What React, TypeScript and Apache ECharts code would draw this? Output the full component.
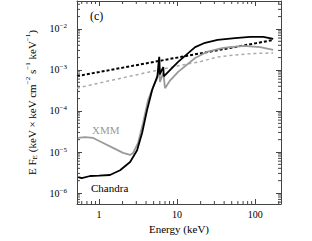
import React, { useEffect, useRef } from "react";
import * as echarts from "echarts";

const X_MIN = 0.522;
const X_MAX = 214;
const Y_MIN = 5.4e-7;
const Y_MAX = 0.048;

const chandraE = [0.54, 0.6, 0.77, 1.0, 1.38, 1.86, 2.5, 3.07, 3.56, 4.12, 4.78, 5.6, 5.9, 6.0, 6.65, 6.75, 10.3, 17, 22.8, 33, 55, 86, 127, 170];
const chandraF = [2.45e-6, 2.3e-6, 2.6e-6, 2.65e-6, 2.75e-6, 3.6e-6, 5.7e-6, 1.1e-5, 2.9e-5, 1.05e-4, 3.2e-4, 7.2e-4, 2.1e-3, 7.8e-4, 1.18e-3, 7.0e-4, 1.57e-3, 3.6e-3, 4.6e-3, 5.4e-3, 6.0e-3, 6.4e-3, 6.4e-3, 5.7e-3];

const xmmE = [0.54, 0.66, 0.84, 1.13, 1.51, 2.03, 2.5, 2.73, 3.16, 3.66, 4.25, 4.92, 5.6, 5.9, 6.02, 6.65, 7.0, 8.1, 10.3, 17, 24, 39, 70, 116, 170];
const xmmF = [2.2e-5, 2.3e-5, 2.2e-5, 1.66e-5, 1.26e-5, 9.5e-6, 8.5e-6, 9.5e-6, 1.66e-5, 5.1e-5, 1.85e-4, 3.9e-4, 6.4e-4, 2.0e-3, 5.1e-4, 8.5e-4, 3.6e-4, 5.5e-4, 9.0e-4, 1.95e-3, 2.75e-3, 3.45e-3, 3.85e-3, 3.6e-3, 3.1e-3];

const chandraModelE = [0.522, 1, 10, 100, 170];
const chandraModelF = [7.1e-4, 8.9e-4, 2.0e-3, 4.45e-3, 5.4e-3];

const xmmModelE = [0.522, 1, 2, 4.5, 10, 20, 33, 52, 86, 170];
const xmmModelF = [3.6e-4, 4.8e-4, 6.4e-4, 9.0e-4, 1.25e-3, 1.6e-3, 2.07e-3, 2.3e-3, 2.5e-3, 2.6e-3];

const xMinorTicks = [0.6, 0.7, 0.8, 0.9, 2, 3, 4, 5, 6, 7, 8, 9, 20, 30, 40, 50, 60, 70, 80, 90, 200];
const yMinorTicks = [
  6e-7, 7e-7, 8e-7, 9e-7,
  2e-6, 3e-6, 4e-6, 5e-6, 6e-6, 7e-6, 8e-6, 9e-6,
  2e-5, 3e-5, 4e-5, 5e-5, 6e-5, 7e-5, 8e-5, 9e-5,
  2e-4, 3e-4, 4e-4, 5e-4, 6e-4, 7e-4, 8e-4, 9e-4,
  2e-3, 3e-3, 4e-3, 5e-3, 6e-3, 7e-3, 8e-3, 9e-3,
  2e-2, 3e-2, 4e-2,
];

const zip = (a: number[], b: number[]) => a.map((v, i) => [v, b[i]]);

const FONT = "Liberation Serif";
const AXIS_COLOR = "#444";
const GRAY = "#9a9a9a";
const LIGHT_GRAY = "#aaaaaa";

export default function App() {
  const ref = useRef<HTMLDivElement>(null);
  useEffect(() => {
    document.body.style.margin = "0";
    if (!ref.current) return;
    const chart = echarts.init(ref.current, undefined, { renderer: "svg" });
    const supRich = {
      base: { fontFamily: FONT, fontSize: 10, color: "#000", lineHeight: 12 },
      sup: { fontFamily: FONT, fontSize: 7, color: "#000", verticalAlign: "top", lineHeight: 7 },
    };
    const axisCommon = {
      type: "log" as const,
      logBase: 10,
      splitLine: { show: false },
      axisLine: { show: true, lineStyle: { color: AXIS_COLOR, width: 1 } },
      axisTick: { show: true, inside: true, length: 5, lineStyle: { color: AXIS_COLOR } },
    };
    const minorTickItem = (isX: boolean) => (params: any, api: any) => {
      const v = api.value(isX ? 0 : 1);
      const style = { stroke: AXIS_COLOR, lineWidth: 1 };
      if (isX) {
        const b = api.coord([v, Y_MIN]);
        const t = api.coord([v, Y_MAX]);
        return {
          type: "group",
          children: [
            { type: "line", shape: { x1: b[0], y1: b[1], x2: b[0], y2: b[1] - 3 }, style },
            { type: "line", shape: { x1: t[0], y1: t[1], x2: t[0], y2: t[1] + 3 }, style },
          ],
        };
      }
      const l = api.coord([X_MIN, v]);
      const r = api.coord([X_MAX, v]);
      return {
        type: "group",
        children: [
          { type: "line", shape: { x1: l[0], y1: l[1], x2: l[0] + 3, y2: l[1] }, style },
          { type: "line", shape: { x1: r[0], y1: r[1], x2: r[0] - 3, y2: r[1] }, style },
        ],
      };
    };
    chart.setOption({
      animation: false,
      backgroundColor: "#fff",
      textStyle: { fontFamily: FONT },
      grid: { left: 77, right: 31, top: 1, bottom: 37, containLabel: false },
      xAxis: [
        {
          ...axisCommon,
          min: X_MIN,
          max: X_MAX,
          position: "bottom",
          name: "Energy (keV)",
          nameLocation: "middle",
          nameGap: 17,
          nameTextStyle: { fontFamily: FONT, fontSize: 11, color: "#000" },
          axisLabel: {
            show: true,
            fontFamily: FONT,
            fontSize: 10,
            color: "#000",
            margin: 5,
            showMinLabel: false,
            showMaxLabel: false,
            formatter: (v: number) => String(Math.round(v)),
          },
        },
        {
          ...axisCommon,
          min: X_MIN,
          max: X_MAX,
          position: "top",
          axisLabel: { show: false },
        },
      ],
      yAxis: [
        {
          ...axisCommon,
          min: Y_MIN,
          max: Y_MAX,
          position: "left",
          name: "E F{sub|E} (keV × keV cm{sup|−2} s{sup|−1} keV{sup|−1})",
          nameLocation: "middle",
          nameRotate: 90,
          nameGap: 31,
          nameTextStyle: {
            fontFamily: FONT,
            fontSize: 11,
            color: "#000",
            lineHeight: 14,
            rich: {
              sub: { fontFamily: FONT, fontSize: 7, color: "#000", verticalAlign: "bottom", lineHeight: 7 },
              sup: { fontFamily: FONT, fontSize: 7, color: "#000", verticalAlign: "top", lineHeight: 7 },
            },
          },
          axisLabel: {
            show: true,
            margin: 10,
            fontFamily: FONT,
            showMinLabel: false,
            showMaxLabel: false,
            formatter: (v: number) => `{base|10}{sup|−${Math.abs(Math.round(Math.log10(v)))}}`,
            rich: supRich,
          },
        },
        {
          ...axisCommon,
          min: Y_MIN,
          max: Y_MAX,
          position: "right",
          axisLabel: { show: false },
        },
      ],
      series: [
        {
          type: "line",
          data: zip(xmmModelE, xmmModelF),
          showSymbol: false,
          lineStyle: { color: LIGHT_GRAY, width: 1.5, type: [3, 3] },
          z: 2,
        },
        {
          type: "line",
          data: zip(chandraModelE, chandraModelF),
          showSymbol: false,
          lineStyle: { color: "#000", width: 2, type: [3, 2] },
          z: 3,
        },
        {
          type: "line",
          data: zip(xmmE, xmmF),
          showSymbol: false,
          lineStyle: { color: GRAY, width: 1.8 },
          z: 4,
        },
        {
          type: "line",
          data: zip(chandraE, chandraF),
          showSymbol: false,
          lineStyle: { color: "#000", width: 1.8 },
          z: 5,
        },
        {
          type: "custom",
          renderItem: minorTickItem(true),
          data: xMinorTicks.map((v) => [v, Y_MIN]),
          clip: false,
          silent: true,
          z: 10,
        },
        {
          type: "custom",
          renderItem: minorTickItem(false),
          data: yMinorTicks.map((v) => [X_MIN, v]),
          clip: false,
          silent: true,
          z: 10,
        },
      ],
      graphic: [
        { type: "text", left: 90, top: 10, style: { text: "(c)", font: `12px ${FONT}`, fill: "#000" } },
        { type: "text", left: 92, top: 124, style: { text: "XMM", font: `11px ${FONT}`, fill: GRAY } },
        { type: "text", left: 91, top: 182, style: { text: "Chandra", font: `11px ${FONT}`, fill: "#000" } },
      ],
    });
    return () => chart.dispose();
  }, []);
  return <div ref={ref} style={{ width: 312, height: 241 }} />;
}
